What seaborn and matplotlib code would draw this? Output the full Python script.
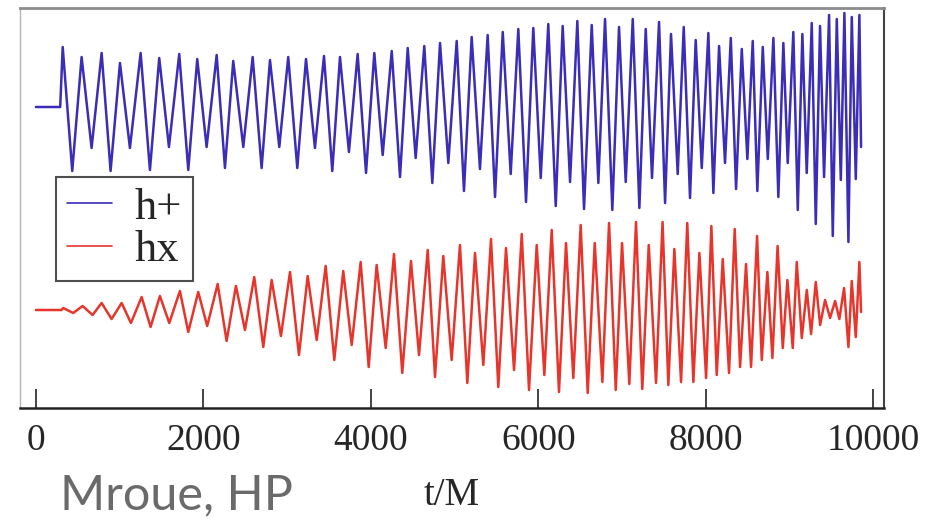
import numpy as np
import pandas as pd
import matplotlib
matplotlib.use("Agg")
from matplotlib import pyplot as plt
import seaborn as sns

# h+ waveform: turning points (t in M, amplitude in arbitrary units)
t_plus = [0, 290, 320, 434, 546, 665, 785, 892, 1004, 1123, 1251, 1362, 1473, 1589,
          1712, 1820, 1927, 2039, 2159, 2258, 2357, 2477, 2589, 2696, 2796, 2907,
          3014, 3122, 3226, 3333, 3441, 3540, 3632, 3739, 3843, 3943, 4042, 4142,
          4250, 4349, 4441, 4536, 4639, 4735, 4827, 4926, 5026, 5113, 5205, 5304,
          5396, 5484, 5576, 5671, 5762, 5854, 5941, 6030, 6120, 6209, 6292, 6380,
          6467, 6547, 6639, 6718, 6798, 6885, 6965, 7045, 7129, 7208, 7284, 7359,
          7443, 7515, 7586, 7666, 7738, 7813, 7881, 7953, 8032, 8092, 8160, 8231,
          8300, 8363, 8431, 8498, 8562, 8617, 8682, 8742, 8809, 8868, 8928, 8980,
          9047, 9100, 9155, 9207, 9267, 9315, 9366, 9414, 9474, 9518, 9566, 9614,
          9657, 9705, 9745, 9793, 9836, 9856]
h_plus = [0.0, 0.0, 0.60, -0.64, 0.50, -0.41, 0.54, -0.64, 0.44, -0.41, 0.54, -0.63,
          0.49, -0.40, 0.53, -0.63, 0.48, -0.40, 0.52, -0.61, 0.46, -0.40, 0.50,
          -0.61, 0.47, -0.40, 0.50, -0.61, 0.48, -0.41, 0.51, -0.64, 0.50, -0.45,
          0.53, -0.66, 0.54, -0.48, 0.56, -0.70, 0.59, -0.51, 0.61, -0.76, 0.64,
          -0.56, 0.66, -0.84, 0.70, -0.62, 0.72, -0.90, 0.75, -0.67, 0.78, -0.95,
          0.79, -0.71, 0.83, -0.99, 0.81, -0.75, 0.86, -1.02, 0.82, -0.76, 0.88,
          -1.03, 0.80, -0.75, 0.88, -1.01, 0.78, -0.71, 0.85, -0.96, 0.73, -0.67,
          0.80, -0.91, 0.67, -0.61, 0.74, -0.86, 0.61, -0.56, 0.69, -0.82, 0.58,
          -0.52, 0.66, -0.84, 0.60, -0.52, 0.69, -0.90, 0.64, -0.56, 0.75, -1.03,
          0.73, -0.66, 0.84, -1.17, 0.81, -0.70, 0.92, -1.29, 0.88, -0.73, 0.94,
          -1.35, 0.90, -0.72, 0.92, -0.40]

# hx waveform
t_cross = [0, 307, 326, 446, 558, 677, 785, 904, 1024, 1135, 1263, 1370, 1481, 1593,
           1720, 1820, 1939, 2046, 2171, 2278, 2389, 2497, 2608, 2716, 2816, 2927,
           3035, 3142, 3246, 3354, 3461, 3564, 3671, 3772, 3879, 3975, 4070, 4178,
           4277, 4376, 4480, 4576, 4680, 4767, 4866, 4966, 5065, 5153, 5245, 5344,
           5436, 5523, 5615, 5711, 5803, 5890, 5982, 6073, 6161, 6248, 6332, 6419,
           6507, 6591, 6675, 6766, 6846, 6926, 7001, 7088, 7168, 7243, 7320, 7407,
           7485, 7554, 7626, 7706, 7780, 7853, 7925, 8005, 8068, 8132, 8204, 8279,
           8347, 8411, 8482, 8542, 8614, 8670, 8737, 8797, 8859, 8921, 8976, 9040,
           9088, 9148, 9208, 9259, 9315, 9367, 9426, 9486, 9546, 9597, 9653, 9705,
           9745, 9793, 9836, 9856]
h_cross = [0.0, 0.0, 0.02, -0.03, 0.04, -0.05, 0.07, -0.09, 0.07, -0.13, 0.13, -0.17,
           0.14, -0.13, 0.19, -0.22, 0.18, -0.16, 0.26, -0.31, 0.24, -0.20, 0.33,
           -0.37, 0.30, -0.26, 0.38, -0.45, 0.34, -0.30, 0.44, -0.50, 0.39, -0.35,
           0.48, -0.57, 0.45, -0.38, 0.56, -0.63, 0.49, -0.45, 0.60, -0.67, 0.54,
           -0.50, 0.65, -0.73, 0.57, -0.55, 0.71, -0.77, 0.62, -0.60, 0.76, -0.80,
           0.65, -0.65, 0.80, -0.82, 0.67, -0.68, 0.85, -0.83, 0.67, -0.72, 0.87,
           -0.80, 0.67, -0.74, 0.88, -0.79, 0.65, -0.73, 0.88, -0.75, 0.61, -0.72,
           0.87, -0.72, 0.57, -0.68, 0.84, -0.65, 0.51, -0.63, 0.81, -0.57, 0.46,
           -0.57, 0.74, -0.50, 0.38, -0.48, 0.64, -0.38, 0.30, -0.38, 0.48, -0.28,
           0.20, -0.24, 0.28, -0.15, 0.10, -0.08, 0.09, -0.09, 0.22, -0.37, 0.29,
           -0.27, 0.48, -0.02]

labels = ["h+", "hx"]
offsets = [1.0, -1.03]
colors = ["#3b2db8", "#e8352c"]
x_ticks = [0, 2000, 4000, 6000, 8000, 10000]

df = pd.concat([
    pd.DataFrame({"t": t_plus, "h": np.array(h_plus) + offsets[0], "pol": labels[0]}),
    pd.DataFrame({"t": t_cross, "h": np.array(h_cross) + offsets[1], "pol": labels[1]}),
])

sns.set_theme(style="white")
plt.rcParams["font.family"] = ["Liberation Serif", "DejaVu Serif"]

fig = plt.figure(figsize=(9.37, 5.19), dpi=100)
ax = fig.add_axes([20 / 937, 1 - 408 / 519, 864 / 937, 400 / 519])

sns.lineplot(data=df, x="t", y="h", hue="pol", palette=colors, estimator=None,
             sort=False, linewidth=1.8, ax=ax)

ax.set_xlim(-190, 10130)
ax.set_ylim(-2.01, 1.99)
ax.set_xticks(x_ticks)
ax.set_xticklabels([str(v) for v in x_ticks])
ax.set_yticks([])
ax.set_ylabel("")
ax.set_xlabel("t/M", fontsize=28, labelpad=14)
ax.tick_params(axis="x", direction="in", length=14, width=1.2, color="#222222",
               labelsize=27, pad=11, bottom=True, top=False)

ax.spines["top"].set_color("#8c8c8c")
ax.spines["top"].set_linewidth(2.0)
ax.spines["left"].set_color("#b5b5b5")
ax.spines["left"].set_linewidth(1.0)
ax.spines["right"].set_color("#444444")
ax.spines["right"].set_linewidth(1.5)
ax.spines["bottom"].set_color("#222222")
ax.spines["bottom"].set_linewidth(1.8)

leg = ax.legend(loc="upper left", bbox_to_anchor=(0.042, 0.578), borderaxespad=0,
                fontsize=32, frameon=True, fancybox=False, handlelength=1.0,
                handletextpad=0.5, labelspacing=0.05, borderpad=0.25)
leg.get_frame().set_edgecolor("#222222")
leg.get_frame().set_linewidth(1.5)
for line in leg.get_lines():
    line.set_linewidth(1.2)

fig.text(60 / 937, 2 / 519, "Mroue, HP", fontsize=35, color="#6a6a6a",
         family=["Lato", "DejaVu Sans"], ha="left", va="bottom")

fig.savefig("out.png", dpi=100)
